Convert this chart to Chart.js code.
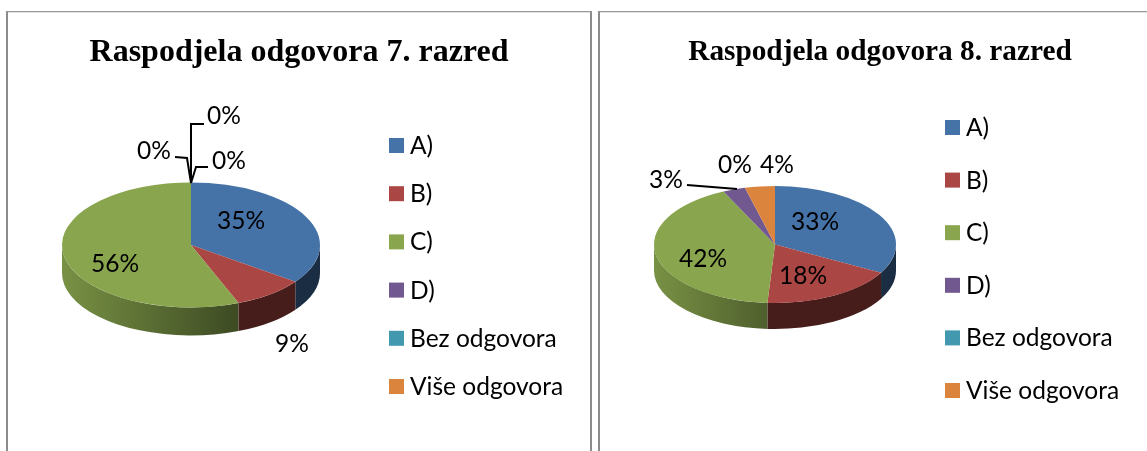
<!DOCTYPE html>
<html><head><meta charset="utf-8">
<script src="https://cdn.jsdelivr.net/npm/chart.js@4"></script>
<style>
html,body{margin:0;padding:0;background:#fff;overflow:hidden;width:1147px;height:451px}
.panel{position:absolute;top:11px;height:460px;box-sizing:border-box;border-top:1px solid #999;border-left:2px solid #8c8c8c;border-right:2px solid #8c8c8c;box-shadow:inset 0 1px 0 #e2e2e2}
canvas{position:absolute;left:0;top:0}
</style></head><body>
<div class="panel" style="left:6px;width:586px"></div>
<div class="panel" style="left:598px;width:600px"></div>
<canvas id="c7" style="left:0;width:595px;height:451px"></canvas>
<canvas id="c8" style="left:595px;width:552px;height:451px"></canvas>
<script>
const categories = ['A)', 'B)', 'C)', 'D)', 'Bez odgovora', 'Više odgovora'];
const colors = ['#4572A7', '#AA4643', '#89A54E', '#71588F', '#4198AF', '#DB843D'];
const values7 = [35, 9, 56, 0, 0, 0];
const values8 = [33, 18, 42, 3, 0, 4];
const title7 = 'Raspodjela odgovora 7. razred';
const title8 = 'Raspodjela odgovora 8. razred';

function shade(hex, f) {
  const n = parseInt(hex.slice(1), 16);
  return `rgb(${(n >> 16) * f | 0},${((n >> 8) & 255) * f | 0},${(n & 255) * f | 0})`;
}

const pie3d = {
  id: 'pie3d',
  afterLayout(chart, _a, o) {
    chart.chartArea = { left: o.cx - o.rx, right: o.cx + o.rx, top: o.cy - o.rx, bottom: o.cy + o.rx, width: 2 * o.rx, height: 2 * o.rx };
    const t = chart.titleBlock;
    t.left = o.titleX - 280; t.right = o.titleX + 280; t.width = 560; t.top = o.titleY;
    t.bottom = t.top + t.height;
  },
  beforeDatasetsDraw(chart, _a, o) {
    const ctx = chart.ctx, k = o.ry / o.rx;
    const arcs = chart.getDatasetMeta(0).data;
    arcs.forEach((arc, i) => {
      const a0 = Math.max(arc.startAngle, 0), a1 = Math.min(arc.endAngle, Math.PI);
      if (a1 <= a0) return;
      const x0 = o.cx + o.rx * Math.cos(a0), x1 = o.cx + o.rx * Math.cos(a1);
      const g = ctx.createLinearGradient(Math.min(x0, x1), 0, Math.max(x0, x1), 0);
      const c = colors[i];
      const light = o.sideLight[i], dark = o.sideDark[i];
      g.addColorStop(0, shade(c, light)); g.addColorStop(1, shade(c, dark));
      ctx.save();
      ctx.beginPath();
      ctx.ellipse(o.cx, o.cy + o.depth, o.rx, o.ry, 0, a0, a1);
      ctx.ellipse(o.cx, o.cy, o.rx, o.ry, 0, a1, a0, true);
      ctx.closePath();
      ctx.fillStyle = g; ctx.fill();
      ctx.restore();
    });
    ctx.save();
    ctx.translate(o.cx, o.cy); ctx.scale(1, k); ctx.translate(-o.cx, -o.cy);
  },
  afterDatasetsDraw(chart, _a, o) {
    const ctx = chart.ctx;
    ctx.restore();
    ctx.save();
    // leader lines
    ctx.strokeStyle = '#000'; ctx.lineWidth = 2; ctx.lineJoin = 'miter';
    o.leaders.forEach(l => {
      ctx.beginPath();
      l.forEach((p, i) => i ? ctx.lineTo(p[0], p[1]) : ctx.moveTo(p[0], p[1]));
      ctx.stroke();
    });
    // value labels
    ctx.fillStyle = '#000';
    ctx.font = o.labelFont; ctx.textAlign = 'center'; ctx.textBaseline = 'middle';
    chart.data.datasets[0].data.forEach((v, i) => {
      const p = o.labelAt[i];
      ctx.fillText(v + '%', p[0], p[1]);
    });
    // legend
    ctx.font = o.legendFont; ctx.textAlign = 'left';
    chart.data.labels.forEach((name, i) => {
      const y = o.legendY + i * o.legendStep;
      ctx.fillStyle = colors[i];
      ctx.fillRect(o.legendX, y - 7.5, 15, 15);
      ctx.fillStyle = '#000';
      ctx.fillText(name, o.legendX + 21, y + 0.5);
    });
    ctx.restore();
  }
};

function makeChart(id, title, values, titleSize, geom) {
  new Chart(document.getElementById(id), {
    type: 'pie',
    data: { labels: categories, datasets: [{ data: values, backgroundColor: colors, borderWidth: 0 }] },
    plugins: [pie3d],
    options: {
      responsive: true, maintainAspectRatio: false, animation: false,
      plugins: {
        legend: { display: false }, tooltip: { enabled: false },
        title: { display: true, text: title, color: '#000', padding: 0,
                 font: { family: '"Liberation Serif"', weight: 'bold', size: titleSize } },
        pie3d: geom
      }
    }
  });
}

makeChart('c7', title7, values7, 32, {
  cx: 191, cy: 245, rx: 129, ry: 62.5, depth: 28,
  titleX: 299, titleY: 34,
  sideLight: [.4, .42, .88, 1, 1, 1], sideDark: [.4, .42, .45, 1, 1, 1],
  labelFont: '24.5px Lato', legendFont: '24.5px Lato',
  legendX: 389, legendY: 145.5, legendStep: 48.2,
  labelAt: [[241, 221], [292, 344], [115, 264], [154, 151], [224, 116], [229, 161]],
  leaders: [[[191, 183], [191, 124], [204, 124]], [[191, 183], [187, 158], [175, 157]], [[191, 183], [196, 167], [208, 167]]]
});
makeChart('c8', title8, values8, 29.3, {
  cx: 180, cy: 244.5, rx: 121, ry: 58.5, depth: 26,
  titleX: 285, titleY: 34.5,
  sideLight: [.4, .42, .88, 1, 1, 1], sideDark: [.4, .42, .58, 1, 1, 1],
  labelFont: '24.5px Lato', legendFont: '24.5px Lato',
  legendX: 350, legendY: 127.5, legendStep: 52.6,
  labelAt: [[220, 222], [208, 276], [108, 259], [71, 180], [140, 165], [182, 165]],
  leaders: [[[92, 185], [142, 189]]]
});
</script>
</body></html>
